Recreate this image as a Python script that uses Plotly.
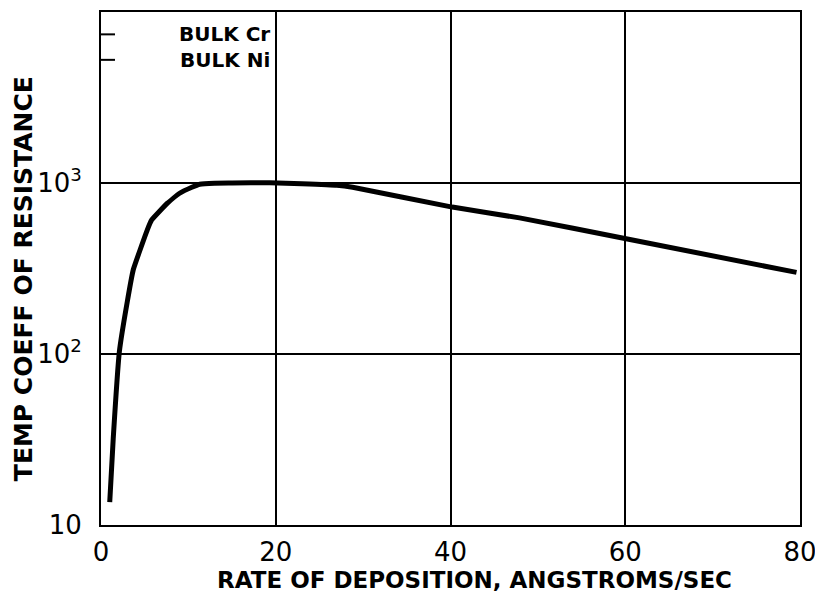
import math
import plotly.graph_objects as go

# Data
rate = [1.0, 1.4, 2.1, 3.0, 3.7, 5.3, 5.8, 7.6, 9.0, 10.4, 11.3, 13.0, 15.0, 19.3, 23.0, 27.0, 28.8, 40.2, 47.9, 60.1, 79.6]
tcr = [13.6, 32, 103, 201, 312, 532, 608, 762, 871, 944, 984, 998, 1000, 1005, 990, 970, 944, 723, 625, 472, 300]

bulk_labels = ["BULK Cr", "BULK Ni"]
bulk_values = [7400, 5250]

x_ticks = [0, 20, 40, 60, 80]
x_ticktext = ["0", "20", "40", "60", "80"]
y_ticks = [10, 100, 1000]
y_ticktext = ["10", "10<sup>2</sup>", "10<sup>3</sup>"]

x_title = "RATE OF DEPOSITION, ANGSTROMS/SEC"
y_title = "TEMP COEFF OF RESISTANCE"

FONT = "DejaVu Sans"
fig = go.Figure()

fig.add_trace(go.Scatter(x=rate, y=tcr, mode="lines",
                         line=dict(color="black", width=5, shape="spline", smoothing=0.3),
                         showlegend=False, hoverinfo="skip"))

for lab, val in zip(bulk_labels, bulk_values):
    fig.add_trace(go.Scatter(x=[0, 1.6], y=[val, val], mode="lines",
                             line=dict(color="black", width=2),
                             showlegend=False, hoverinfo="skip"))
    fig.add_annotation(x=19.6, y=math.log10(val), text=lab, showarrow=False,
                       xanchor="right", yanchor="middle",
                       font=dict(family=FONT, size=20, color="black", weight="bold"))

# page body has an 8px margin, so the figure is 8px smaller on each side
fig.update_layout(
    width=815, height=596,
    margin=dict(l=93, r=23, t=2, b=79),
    paper_bgcolor="white", plot_bgcolor="white",
    font=dict(family=FONT, color="black"),
)
fig.update_xaxes(range=[0, 80], tickvals=x_ticks, ticktext=x_ticktext,
                 showgrid=True, gridcolor="black", gridwidth=2,
                 showline=True, linecolor="black", linewidth=2, mirror=True,
                 ticks="", zeroline=False,
                 tickfont=dict(family=FONT, size=26, color="black"),
                 ticklabelstandoff=3)
fig.update_yaxes(type="log", range=[1, 4], tickvals=y_ticks, ticktext=y_ticktext,
                 showgrid=True, gridcolor="black", gridwidth=2,
                 showline=True, linecolor="black", linewidth=2, mirror=True,
                 ticks="", zeroline=False,
                 tickfont=dict(family=FONT, size=26, color="black"),
                 ticklabelstandoff=12)

fig.add_annotation(xref="paper", yref="paper", x=0.535, y=-0.107, yanchor="middle",
                   text=x_title, showarrow=False,
                   font=dict(family=FONT, size=23, color="black", weight="bold"))
fig.add_annotation(xref="paper", yref="paper", x=-0.111, y=0.48, xanchor="center",
                   yanchor="middle",
                   text=y_title, showarrow=False, textangle=-90,
                   font=dict(family=FONT, size=25, color="black", weight="bold"))

fig.write_html("out.html")
